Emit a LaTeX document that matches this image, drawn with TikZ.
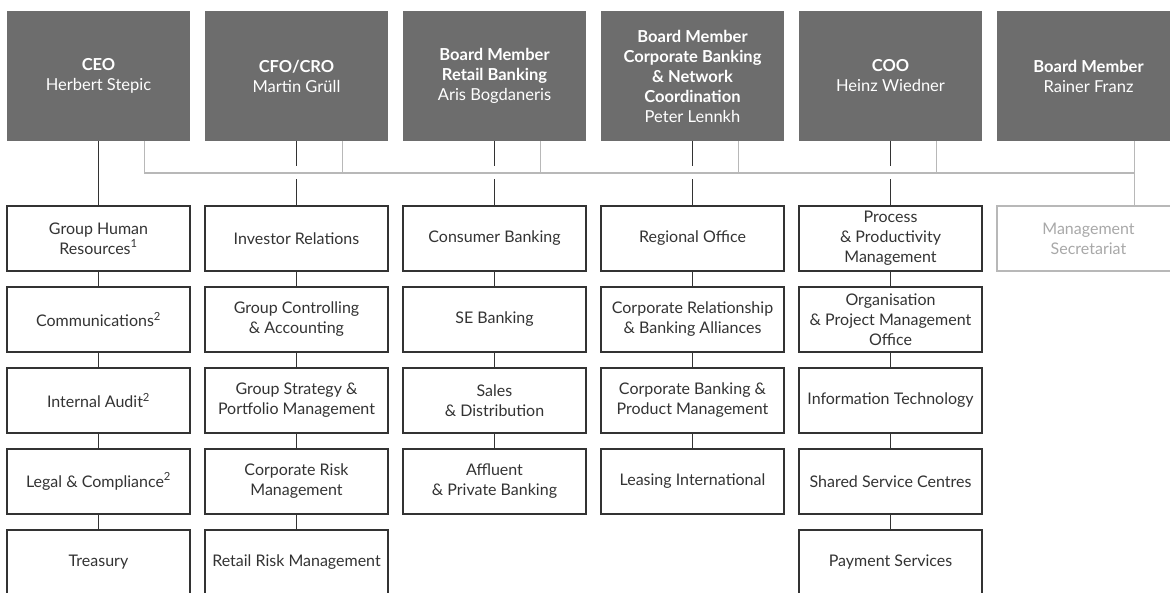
\documentclass[tikz,border=0pt]{standalone}
\usepackage{fontspec}
\setmainfont{Lato}
\usetikzlibrary{positioning}
\definecolor{headgray}{HTML}{6D6D6D}
\definecolor{busgray}{HTML}{B8B8B8}
\definecolor{unitgray}{HTML}{333333}
\definecolor{palegray}{HTML}{A8A8A8}
\tikzset{
  head/.style={fill=headgray, text=white, inner sep=0pt, outer sep=0pt,
    minimum width=183pt, minimum height=130pt, align=center,
    font=\fontsize{16.5}{20}\selectfont},
  unit/.style={draw=unitgray, text=unitgray, line width=1.1pt, inner sep=0pt,
    outer sep=0pt, minimum width=183pt, minimum height=65pt, align=center,
    font=\fontsize{16}{20}\selectfont},
  link/.style={draw=unitgray, line width=1.1pt},
  bus/.style={draw=busgray, line width=1.2pt},
}

\begin{document}
\begin{tikzpicture}[x=1pt, y=-1pt]
  \useasboundingbox (0,0) rectangle (1170,593);
  \clip (0,0) rectangle (1170,593);
  \def\toprow{76}
  \def\subrow{238.5}
  \def\gap{16pt}

  % board
  \node[head] (ceo)   at (98.5, \toprow)   {\textbf{CEO}\\Herbert Stepic};
  \node[head] (cfo)   at (296.5, \toprow)  {\textbf{CFO/CRO}\\Martin Grüll};
  \node[head] (retail) at (494.5, \toprow) {\textbf{Board Member}\\\textbf{Retail Banking}\\Aris Bogdaneris};
  \node[head] (corp)  at (692.5, \toprow)  {\textbf{Board Member}\\\textbf{Corporate Banking}\\\textbf{\& Network}\\\textbf{Coordination}\\Peter Lennkh};
  \node[head] (coo)   at (890.5, \toprow)  {\textbf{COO}\\Heinz Wiedner};
  \node[head] (franz) at (1088.5, \toprow) {\textbf{Board Member}\\Rainer Franz};

  % CEO
  \node[unit] (hr) at (98.5, \subrow) {Group Human\\Resources\textsuperscript{1}};
  \node[unit, below=\gap of hr] (comm) {Communications\textsuperscript{2}};
  \node[unit, below=\gap of comm] (audit) {Internal Audit\textsuperscript{2}};
  \node[unit, below=\gap of audit] (legal) {Legal \& Compliance\textsuperscript{2}};
  \node[unit, below=\gap of legal] (treasury) {Treasury};

  % CFO/CRO
  \node[unit] (ir) at (296.5, \subrow) {Investor Relations};
  \node[unit, below=\gap of ir] (ctrl) {Group Controlling\\\& Accounting};
  \node[unit, below=\gap of ctrl] (strat) {Group Strategy \&\\Portfolio Management};
  \node[unit, below=\gap of strat] (crisk) {Corporate Risk\\Management};
  \node[unit, below=\gap of crisk] (rrisk) {Retail Risk Management};

  % retail banking
  \node[unit] (consumer) at (494.5, \subrow) {Consumer Banking};
  \node[unit, below=\gap of consumer] (se) {SE Banking};
  \node[unit, below=\gap of se] (sales) {Sales\\\& Distribution};
  \node[unit, below=\gap of sales] (affluent) {Affluent\\\& Private Banking};

  % corporate banking
  \node[unit] (regional) at (692.5, \subrow) {Regional Office};
  \node[unit, below=\gap of regional] (alliances) {Corporate Relationship\\\& Banking Alliances};
  \node[unit, below=\gap of alliances] (product) {Corporate Banking \&\\Product Management};
  \node[unit, below=\gap of product] (leasing) {Leasing International};

  % COO
  \node[unit] (process) at (890.5, \subrow) {Process\\\& Productivity\\Management};
  \node[unit, below=\gap of process] (pmo) {Organisation\\\& Project Management\\Office};
  \node[unit, below=\gap of pmo] (it) {Information Technology};
  \node[unit, below=\gap of it] (ssc) {Shared Service Centres};
  \node[unit, below=\gap of ssc] (payment) {Payment Services};

  \node[unit, draw=busgray, text=palegray] (secretariat) at (1088.5, \subrow) {Management\\Secretariat};

  % reporting lines
  \draw[link] (ceo) -- (hr) -- (comm) -- (audit) -- (legal) -- (treasury);
  \draw[link] (cfo) -- (ir) -- (ctrl) -- (strat) -- (crisk) -- (rrisk);
  \draw[link] (retail) -- (consumer) -- (se) -- (sales) -- (affluent);
  \draw[link] (corp) -- (regional) -- (alliances) -- (product) -- (leasing);
  \draw[link] (coo) -- (process) -- (pmo) -- (it) -- (ssc) -- (payment);

  % board line
  \coordinate (busl) at (144.25, 173);
  \coordinate (busr) at (1134.25, 173);
  \draw[bus, preaction={draw, white, line width=13pt}] (busl) -- (busr);
  \draw[bus] ([xshift=45.75pt]ceo.south) -- (busl);
  \draw[bus] ([xshift=45.75pt]cfo.south) -- ([xshift=45.75pt]cfo.south |- busl);
  \draw[bus] ([xshift=45.75pt]retail.south) -- ([xshift=45.75pt]retail.south |- busl);
  \draw[bus] ([xshift=45.75pt]corp.south) -- ([xshift=45.75pt]corp.south |- busl);
  \draw[bus] ([xshift=45.75pt]coo.south) -- ([xshift=45.75pt]coo.south |- busl);
  \draw[bus] ([xshift=45.75pt]franz.south) -- ([xshift=45.75pt]secretariat.north);
\end{tikzpicture}
\end{document}
